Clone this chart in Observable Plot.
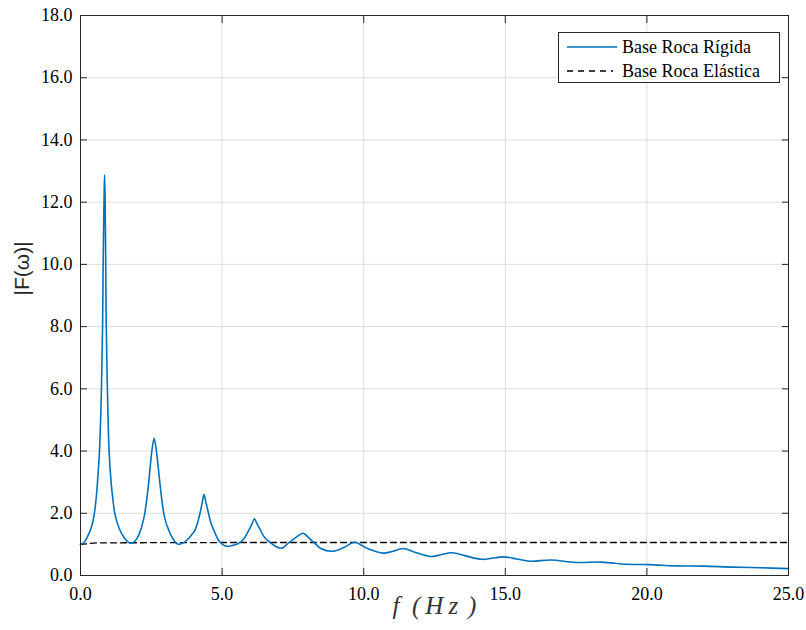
<!DOCTYPE html>
<html>
<head>
<meta charset="utf-8">
<script src="https://cdn.jsdelivr.net/npm/d3@7"></script>
<script src="https://cdn.jsdelivr.net/npm/@observablehq/plot@0.6"></script>
<style>
  body { margin: 0; background: #fff; }
  #wrap { position: relative; width: 806px; height: 630px; }
  #legend { position: absolute; left: 558px; top: 32px; width: 220px; height: 49px;
            border: 1px solid #262626; background: #fff;
            font-family: "Liberation Serif", serif; font-size: 18px; color: #000; }
  .row { position: absolute; left: 8px; display: flex; align-items: center; height: 24px; }
  .row svg { width: 52px; height: 10px; margin-right: 3px; }
</style>
</head>
<body>
<div id="wrap">
  <div id="chart"></div>
  <div id="legend">
    <div class="row" style="top:2px">
      <svg><line x1="0" x2="50" y1="5" y2="5" stroke="#0072BD" stroke-width="1.6"/></svg>
      <span>Base Roca Rígida</span>
    </div>
    <div class="row" style="top:26px">
      <svg><line x1="0" x2="46" y1="5" y2="5" stroke="#000" stroke-width="1.3" stroke-dasharray="6,5"/></svg>
      <span>Base Roca Elástica</span>
    </div>
  </div>
</div>
<script>
// Tick values
const xTicks = [0, 5, 10, 15, 20, 25];
const yTicks = [0, 2, 4, 6, 8, 10, 12, 14, 16, 18];

// Series 1: "Base Roca Rígida"
const rigidF = [0.00, 0.12, 0.24, 0.40, 0.49, 0.55, 0.60, 0.67, 0.74, 0.78, 0.80, 0.83, 0.85, 0.87, 0.89, 0.91, 0.95, 1.01, 1.08, 1.15, 1.21, 1.35, 1.53, 1.75, 1.88, 2.00, 2.12, 2.20, 2.27, 2.34, 2.41, 2.52, 2.60, 2.68, 2.80, 2.87, 2.94, 3.02, 3.12, 3.25, 3.43, 3.62, 3.77, 3.90, 4.04, 4.13, 4.22, 4.30, 4.36, 4.43, 4.52, 4.60, 4.71, 4.90, 5.12, 5.40, 5.65, 5.80, 5.94, 6.05, 6.14, 6.24, 6.36, 6.50, 6.71, 6.90, 7.12, 7.36, 7.60, 7.86, 8.05, 8.24, 8.50, 8.89, 9.30, 9.68, 10.10, 10.68, 11.00, 11.39, 11.80, 12.36, 12.70, 13.12, 13.60, 14.18, 14.95, 15.40, 15.89, 16.60, 17.50, 18.40, 19.30, 20.10, 21.00, 22.00, 23.00, 24.00, 25.00];
const rigidA = [1.00, 1.06, 1.23, 1.60, 2.00, 2.45, 3.00, 4.00, 6.00, 8.00, 10.00, 12.00, 12.88, 12.00, 10.00, 8.00, 6.00, 4.00, 3.00, 2.40, 2.00, 1.55, 1.23, 1.04, 1.07, 1.20, 1.45, 1.70, 2.00, 2.45, 3.00, 4.00, 4.41, 4.00, 3.00, 2.45, 2.00, 1.70, 1.45, 1.20, 1.01, 1.05, 1.15, 1.28, 1.45, 1.68, 2.00, 2.35, 2.60, 2.35, 2.00, 1.70, 1.45, 1.10, 0.95, 0.97, 1.07, 1.22, 1.45, 1.65, 1.82, 1.65, 1.45, 1.22, 1.05, 0.93, 0.88, 1.06, 1.22, 1.36, 1.22, 1.06, 0.86, 0.78, 0.90, 1.07, 0.88, 0.72, 0.77, 0.87, 0.75, 0.61, 0.66, 0.73, 0.63, 0.52, 0.60, 0.53, 0.46, 0.50, 0.42, 0.43, 0.36, 0.35, 0.31, 0.30, 0.27, 0.25, 0.22];

// Series 2: "Base Roca Elástica"
const elasticF = [0.0, 0.6, 5.0, 25.0];
const elasticA = [1.00, 1.05, 1.06, 1.06];

const rigid = rigidF.map((f, i) => ({f, a: rigidA[i]}));
const elastic = elasticF.map((f, i) => ({f, a: elasticA[i]}));

const fmt = d3.format(".1f");
const axisColor = "#262626";

const chart = Plot.plot({
  width: 806,
  height: 630,
  marginLeft: 80,
  marginRight: 18,
  marginTop: 15,
  marginBottom: 55,
  x: {domain: [0, 25]},
  y: {domain: [0, 18]},
  style: {fontFamily: "Liberation Serif, serif", fontSize: "18px", color: axisColor, background: "#fff"},
  marks: [
    Plot.gridX(xTicks, {stroke: "#dedede", strokeOpacity: 1}),
    Plot.gridY(yTicks, {stroke: "#dedede", strokeOpacity: 1}),
    Plot.line(elastic, {x: "f", y: "a", stroke: "#000", strokeWidth: 1.3, strokeDasharray: "6,4"}),
    Plot.line(rigid, {x: "f", y: "a", stroke: "#0072BD", strokeWidth: 1.6, curve: "catmull-rom"}),
    Plot.frame({stroke: axisColor}),
    Plot.axisX(xTicks, {anchor: "bottom", tickSize: -7, tickPadding: 19, tickFormat: fmt, label: null, fill: "#000"}),
    Plot.axisX(xTicks, {anchor: "top", tickSize: -7, tickFormat: () => "", label: null}),
    Plot.axisY(yTicks, {anchor: "left", tickSize: -7, tickPadding: 15, tickFormat: fmt, label: null, fill: "#000"}),
    Plot.axisY(yTicks, {anchor: "right", tickSize: -7, tickFormat: () => "", label: null}),
    Plot.text(["f\u2002(\u2009H\u2009z\u2009\u2009)"], {frameAnchor: "bottom", dy: 38, fontStyle: "italic", fontSize: 25, fill: "#333", fontFamily: "Liberation Serif, serif"}),
    Plot.text(["|F(ω)|"], {frameAnchor: "left", dx: -58, rotate: -90, fontSize: 21, fill: "#262626", fontFamily: "Liberation Sans, sans-serif"})
  ]
});
document.getElementById("chart").appendChild(chart);
</script>
</body>
</html>
